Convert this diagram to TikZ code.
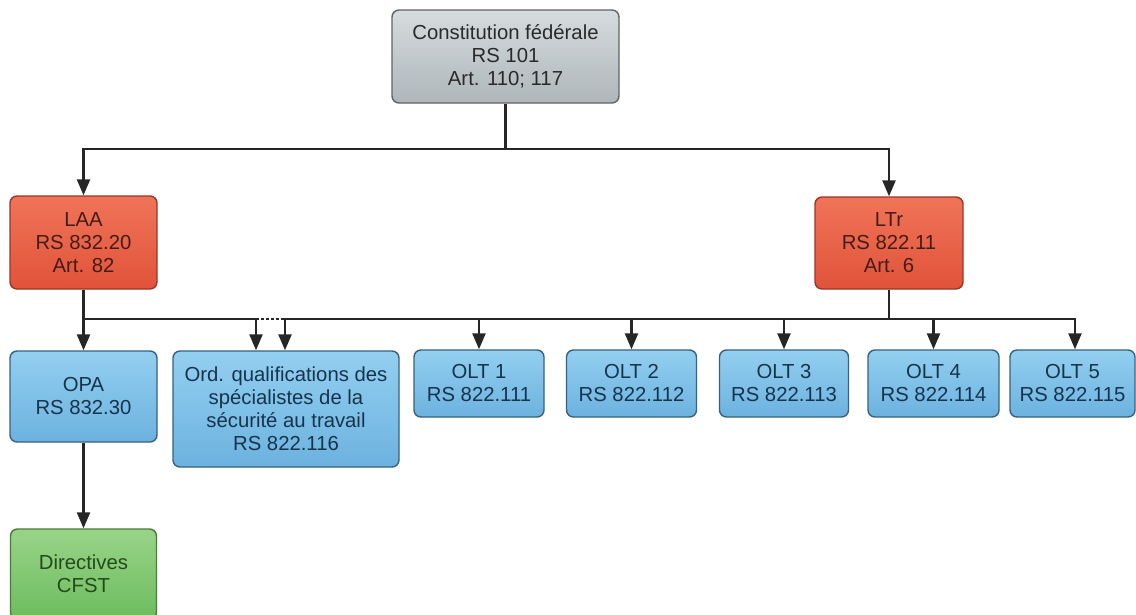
\documentclass[tikz,border=0pt]{standalone}
\usepackage{fontspec}
\setmainfont{Liberation Sans}
\usetikzlibrary{arrows.meta}
\definecolor{lineC}{HTML}{262626}
\definecolor{grayT}{HTML}{D6DCDE}
\definecolor{grayB}{HTML}{AEB6B9}
\definecolor{grayD}{HTML}{5E6467}
\definecolor{grayX}{HTML}{2A2A2A}
\definecolor{redT}{HTML}{F07458}
\definecolor{redB}{HTML}{E0533A}
\definecolor{redD}{HTML}{9A3626}
\definecolor{redX}{HTML}{451C14}
\definecolor{bluT}{HTML}{93CFF0}
\definecolor{bluB}{HTML}{6CB2DF}
\definecolor{bluD}{HTML}{36627F}
\definecolor{bluX}{HTML}{16344C}
\definecolor{grnT}{HTML}{98D488}
\definecolor{grnB}{HTML}{6DBC5E}
\definecolor{grnD}{HTML}{4A7A3C}
\definecolor{grnX}{HTML}{244A1D}
\begin{document}
\begin{tikzpicture}[x=1pt,y=-1pt,
  box/.style={draw, line width=1.4pt, rounded corners=7pt, align=center,
    font=\fontsize{20.3}{23}\selectfont, inner sep=0pt},
  graybox/.style={box, draw=grayD, top color=grayT, bottom color=grayB, text=grayX},
  redbox/.style={box, draw=redD, top color=redT, bottom color=redB, text=redX},
  bluebox/.style={box, draw=bluD, top color=bluT, bottom color=bluB, text=bluX},
  greenbox/.style={box, draw=grnD, top color=grnT, bottom color=grnB, text=grnX},
  conn/.style={draw=lineC, line width=2.4pt},
  arr/.style={conn, -{Triangle[width=13pt,length=16pt]}}]
\useasboundingbox (0,0) rectangle (1136,614);
\clip (0,0) rectangle (1136,614);

\node[graybox, minimum width=227pt, minimum height=93pt] (cf) at (505.5,56.5)
  {Constitution fédérale\\RS 101\\Art. 110; 117};
\node[redbox, minimum width=147pt, minimum height=93pt] (laa) at (83.5,242.5)
  {LAA\\RS 832.20\\Art. 82};
\node[redbox, minimum width=148pt, minimum height=92pt] (ltr) at (889,243)
  {LTr\\RS 822.11\\Art. 6};
\node[bluebox, minimum width=147pt, minimum height=91pt] (opa) at (83.5,396.5)
  {OPA\\RS 832.30};
\node[bluebox, minimum width=226pt, minimum height=116pt] (ord) at (286,409)
  {Ord. qualifications des\\spécialistes de la\\sécurité au travail\\RS 822.116};
\node[bluebox, minimum width=130pt, minimum height=67pt] (olt1) at (479,383.5)
  {OLT 1\\RS 822.111};
\node[bluebox, minimum width=130pt, minimum height=67pt] (olt2) at (631.5,383.5)
  {OLT 2\\RS 822.112};
\node[bluebox, minimum width=129pt, minimum height=67pt] (olt3) at (784,383.5)
  {OLT 3\\RS 822.113};
\node[bluebox, minimum width=131pt, minimum height=67pt] (olt4) at (933.5,383.5)
  {OLT 4\\RS 822.114};
\node[bluebox, minimum width=125pt, minimum height=67pt] (olt5) at (1072.5,383.5)
  {OLT 5\\RS 822.115};
\node[greenbox, minimum width=146pt, minimum height=90pt] (dir) at (83.5,574)
  {Directives\\CFST};

% top bus
\coordinate (bus1) at (505.5,149);
\draw[conn] (cf.south) -- (bus1);
\draw[arr] (bus1) -| (laa.north);
\draw[arr] (bus1) -| (ltr.north);

% LAA branch
\coordinate (bus2) at (83.5,319);
\draw[arr] (laa.south) -- (opa.north);
\draw[arr] (bus2) -| ([xshift=-30pt]ord.north);
\draw[conn, dash pattern=on 2.5pt off 2.5pt] ([xshift=-30pt]ord.north |- bus2) -- ([xshift=-1pt]ord.north |- bus2);

% LTr branch
\coordinate (bus3) at (889,319);
\draw[conn] (ltr.south) -- (bus3);
\draw[arr] (bus3) -| ([xshift=-1pt]ord.north);
\draw[arr] (bus3) -| ([xshift=2.5pt]olt5.north);
\draw[arr] (olt1.north |- bus3) -- (olt1.north);
\draw[arr] (olt2.north |- bus3) -- (olt2.north);
\draw[arr] (olt3.north |- bus3) -- (olt3.north);
\draw[arr] (olt4.north |- bus3) -- (olt4.north);

% OPA to directives
\draw[arr] (opa.south) -- (dir.north);
\end{tikzpicture}
\end{document}
